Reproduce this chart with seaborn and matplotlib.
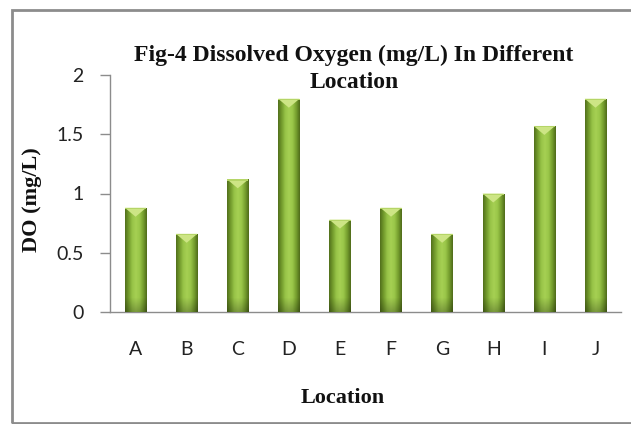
import numpy as np
import pandas as pd
import matplotlib
matplotlib.use("Agg")
import matplotlib.pyplot as plt
import seaborn as sns
from matplotlib.patches import Rectangle, Polygon
from matplotlib.colors import LinearSegmentedColormap

# Dissolved oxygen per sampling location (mg/L)
locations = ["A", "B", "C", "D", "E", "F", "G", "H", "I", "J"]
do_values = [0.88, 0.66, 1.12, 1.80, 0.78, 0.88, 0.66, 1.00, 1.57, 1.80]
y_ticks = [0, 0.5, 1, 1.5, 2]
y_tick_labels = ["0", "0.5", "1", "1.5", "2"]

sns.set_theme(style="white")
plt.rcParams["font.family"] = ["Lato", "DejaVu Sans"]
serif = ["Liberation Serif", "DejaVu Serif"]

W, H = 631, 424
fig = plt.figure(figsize=(W / 100, H / 100), dpi=100)
ax = fig.add_axes([110 / W, 1 - 312 / H, 511 / W, 237 / H])

df = pd.DataFrame({"Location": locations, "DO": do_values})
sns.barplot(data=df, x="Location", y="DO", color="#8db33a", width=0.42,
            saturation=1, ax=ax, zorder=2)

# bevelled green shading on each bar: horizontal profile, darker near the foot
shade = LinearSegmentedColormap.from_list(
    "bevel", ["#52701c", "#749c2d", "#98c448", "#a6d053", "#9ac649", "#77a02f", "#4f6b1a"])
cols = shade(np.linspace(0, 1, 64))[:, :3]
px_per_unit = 237 / 2.0
for p in list(ax.patches):
    p.set_edgecolor("none")
    x0, y0, w, h = p.get_x(), p.get_y(), p.get_width(), p.get_height()
    rows = max(int(round(h * px_per_unit)), 2)
    dist = np.arange(rows)[::-1]  # pixels above the baseline, top row first
    factor = 1.0 - 0.25 * np.clip(1 - dist / 14.0, 0, 1)
    img = cols[None, :, :] * factor[:, None, None]
    im = ax.imshow(img, extent=[x0, x0 + w, y0, y0 + h], origin="upper",
                   aspect="auto", zorder=3, interpolation="bilinear")
    im.set_clip_path(p)
    bev = 9 / px_per_unit
    ax.add_patch(Polygon([[x0, y0 + h], [x0 + w, y0 + h], [x0 + w / 2, y0 + h - bev]],
                         closed=True, facecolor="#cde585", edgecolor="none", zorder=4))
    ax.add_patch(Rectangle((x0, y0 + h - 1.5 / px_per_unit), w, 1.5 / px_per_unit,
                           facecolor="#b5d567", edgecolor="none", zorder=4))

ax.set_xlim(-0.5, len(locations) - 0.5)
ax.set_ylim(0, 2)
ax.set_yticks(y_ticks)
ax.set_yticklabels(y_tick_labels)

for side in ["top", "right"]:
    ax.spines[side].set_visible(False)
for side in ["left", "bottom"]:
    ax.spines[side].set_color("#8c8c8c")
    ax.spines[side].set_linewidth(1.0)

ax.tick_params(axis="y", which="major", left=True, length=7, width=1.0,
               color="#8c8c8c", pad=12, labelsize=14, labelcolor="#222222")
ax.tick_params(axis="x", which="major", bottom=False, length=0, pad=21,
               labelsize=14, labelcolor="#222222")

ax.set_ylabel("DO (mg/L)", fontfamily=serif, fontweight="bold", fontsize=16,
              color="#111111", va="center")
ax.yaxis.set_label_coords(-0.153, 0.473)
ax.set_xlabel("Location", fontfamily=serif, fontweight="bold", fontsize=16,
              color="#111111", va="center")
ax.xaxis.set_label_coords(0.456, -0.363)

ax.text(0.4775, 1.025, "Fig-4 Dissolved Oxygen (mg/L) In Different\nLocation",
        transform=ax.transAxes, ha="center", va="center", multialignment="center",
        fontfamily=serif, fontweight="bold", fontsize=17, color="#111111",
        linespacing=1.35)

# chart frame
fig.add_artist(Rectangle((12 / W, 1 / H), 1.0, (414 - 1) / H,
                         transform=fig.transFigure, fill=False,
                         edgecolor="#8c8c8c", linewidth=2))

fig.savefig("out.png", dpi=100)
